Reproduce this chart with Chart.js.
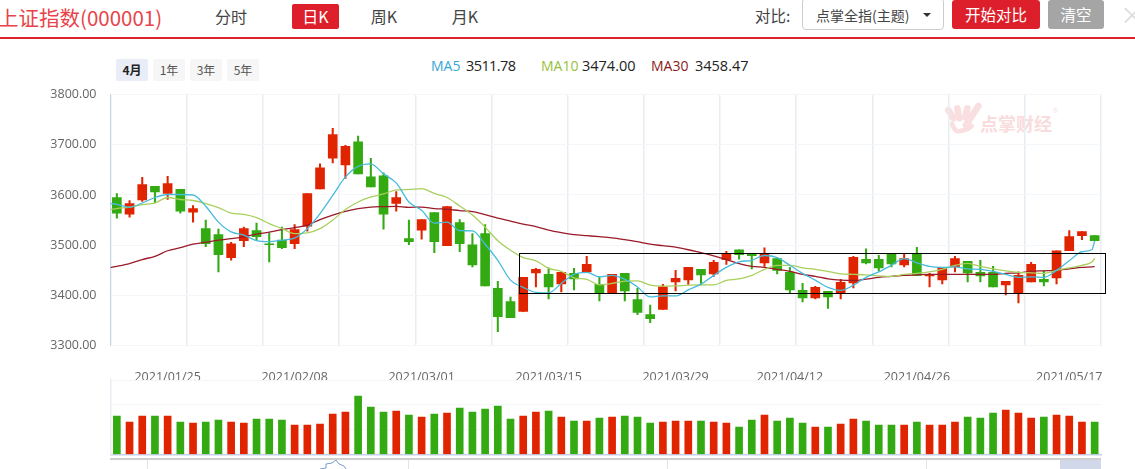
<!DOCTYPE html>
<html lang="zh"><head><meta charset="utf-8">
<script src="https://cdn.jsdelivr.net/npm/chart.js@4/dist/chart.umd.min.js"></script>
<style>
html,body{margin:0;padding:0;background:#fff;overflow:hidden}
#page{position:relative;width:1135px;height:469px;overflow:hidden;font-family:"Noto Sans CJK SC","Noto Sans",sans-serif;background:#fff}
#page>*{position:absolute;box-sizing:border-box}
canvas{display:block}
.c{text-align:center;white-space:nowrap}
.tab{top:4px;height:25px;line-height:25px;font-size:16px;color:#444;transform:translateX(-50%);white-space:nowrap}
.rng{top:59px;height:22px;line-height:22px;width:32px;background:#f6f6f6;border-radius:2px;font-size:12px;color:#555;text-align:center}
.ma{top:56px;font:14px/20px "Open Sans",sans-serif;white-space:nowrap}
.val{font-size:14.5px}
.btn{top:0;height:29px;line-height:28px;color:#fff;font-size:15.5px;text-align:center;border-radius:3px}
.vl{top:460px;height:9px;width:1px;background:#e4e4e4}
</style></head><body>
<div id="page">
  <div style="left:-2px;top:3px;font-size:20.5px;line-height:28px;color:#e8434a;white-space:nowrap">上证指数(000001)</div>
  <div class="tab" style="left:231px">分时</div>
  <div class="c" style="left:292px;top:4px;width:47px;height:25px;line-height:25px;background:#dc1f2a;color:#fff;font-size:16px;border-radius:2px">日K</div>
  <div class="tab" style="left:384px">周K</div>
  <div class="tab" style="left:465px">月K</div>
  <div style="left:755px;top:3px;font-size:15.5px;line-height:24px;color:#444;white-space:nowrap">对比:</div>
  <div style="left:802px;top:-2px;width:142px;height:32px;border:1px solid #ccc;border-radius:4px;background:#fff"></div>
  <div style="left:816px;top:3px;font-size:14px;line-height:24px;color:#444;white-space:nowrap">点掌全指(主题)</div>
  <div style="left:923px;top:13px;width:0;height:0;border-left:4px solid transparent;border-right:4px solid transparent;border-top:4px solid #333"></div>
  <div class="btn" style="left:952px;width:88px;background:#dc1f2a">开始对比</div>
  <div class="btn" style="left:1048px;width:56px;background:#a5a5a5">清空</div>
  <div style="left:1120px;top:0;font-size:24px;line-height:28px;color:#ddd">×</div>
  <div style="left:0;top:37px;width:1135px;height:2px;background:#e0202a"></div>

  <div class="rng" style="left:116px;background:#e8edf7;color:#222;font-weight:700">4月</div>
  <div class="rng" style="left:153px">1年</div>
  <div class="rng" style="left:190px">3年</div>
  <div class="rng" style="left:227px">5年</div>
  <div class="ma" style="left:431px;color:#35a8d2">MA5</div><div class="ma val" style="left:466px;color:#222;letter-spacing:-.6px">3511.78</div>
  <div class="ma" style="left:541px;color:#97c139">MA10</div><div class="ma val" style="left:582px;color:#222">3474.00</div>
  <div class="ma" style="left:651px;color:#8b1a1a">MA30</div><div class="ma val" style="left:695px;color:#222">3458.47</div>

  <svg style="left:930px;top:90px" width="140" height="60" viewBox="0 0 420 180">
    <g fill="none" stroke="#f9dfe0" stroke-width="20" stroke-linecap="round">
      <path d="M55 60L70 85M82 55L88 85M112 55L106 82M145 48L108 105"/>
      <path d="M66 102Q75 130 95 122Q115 118 125 108" stroke-width="14"/>
    </g>
    <text x="150" y="122" font-size="54" font-weight="700" fill="#f9dcdc" font-family="Noto Sans CJK SC">点掌财经</text>
    <text x="368" y="68" font-size="20" fill="#f9e4e4" font-family="Open Sans">®</text>
  </svg>

  <div style="left:0;top:73px;width:1135px;height:311px"><canvas id="main" width="1135" height="311"></canvas></div>
  <div style="left:0;top:376px;width:1135px;height:80px"><canvas id="vol" width="1135" height="80"></canvas></div>

  <div style="left:519px;top:253px;width:587px;height:41px;border:1.5px solid #000"></div>

  <div style="left:110px;top:458px;width:991px;height:2px;background:#cfcfcf"></div>
  <div class="vl" style="left:147px"></div><div class="vl" style="left:408px"></div>
  <div class="vl" style="left:667px"></div><div class="vl" style="left:926px"></div>
  <div style="left:1060px;top:460px;width:41px;height:9px;background:#d0d8ea"></div>
  <svg style="left:318px;top:460px" width="30" height="9" viewBox="0 0 30 9"><path d="M2 9L8 8L8 4L14 3L18 0L21 4L26 6L28 9" fill="none" stroke="#7b9cc8" stroke-width="1"/></svg>
</div>
<script>
const categories = ["2021/01/19","2021/01/20","2021/01/21","2021/01/22","2021/01/25","2021/01/26","2021/01/27","2021/01/28","2021/01/29",
"2021/02/01","2021/02/02","2021/02/03","2021/02/04","2021/02/05","2021/02/08","2021/02/09","2021/02/10","2021/02/18","2021/02/19",
"2021/02/22","2021/02/23","2021/02/24","2021/02/25","2021/02/26","2021/03/01","2021/03/02","2021/03/03","2021/03/04","2021/03/05",
"2021/03/08","2021/03/09","2021/03/10","2021/03/11","2021/03/12","2021/03/15","2021/03/16","2021/03/17","2021/03/18","2021/03/19",
"2021/03/22","2021/03/23","2021/03/24","2021/03/25","2021/03/26","2021/03/29","2021/03/30","2021/03/31","2021/04/01","2021/04/02",
"2021/04/06","2021/04/07","2021/04/08","2021/04/09","2021/04/12","2021/04/13","2021/04/14","2021/04/15","2021/04/16","2021/04/19",
"2021/04/20","2021/04/21","2021/04/22","2021/04/23","2021/04/26","2021/04/27","2021/04/28","2021/04/29","2021/04/30","2021/05/06",
"2021/05/07","2021/05/10","2021/05/11","2021/05/12","2021/05/13","2021/05/14","2021/05/17","2021/05/18","2021/05/19"];
const tickIndex = [4,14,24,34,44,53,63,75];
const openP = [3595,3562,3590,3617,3603,3611,3566,3533,3521,3475,3509,3529,3503,3510,3503,3538,3612,3673.5,3660,3706,3636,3638,3583,3513,3530,3565,3499,3545,3501,3523,3414,3388,3368,3445,3442,3423,3444,3447,3422,3404,3444,3392,3362,3372,3427,3431,3452,3443,3471,3491,3482,3465,3473.5,3446,3410,3395,3408,3405,3425,3472,3472,3482,3461,3482,3439,3431,3457,3468,3446,3446,3421,3405,3427,3432,3435,3489,3519,3519];
const closeP = [3564,3583,3620.5,3606,3622.5,3568,3573,3503,3481,3503,3533,3517,3501,3495,3531,3603,3654,3720,3697,3642,3616,3562,3595,3507,3551,3507,3577,3503,3461,3419,3358,3356,3436,3452,3417,3446,3433,3462,3404,3442,3409,3366,3354,3417,3434,3456,3441,3466,3482,3481,3479,3482,3450,3411,3395,3416,3397,3426,3476,3465,3455,3463,3473.5,3440,3442,3456,3473.5,3445,3439,3417,3428,3440,3462,3427,3489,3517,3527,3509];
const highP = [3603,3589,3635,3617,3637,3611,3579,3550,3532,3506,3536,3544,3524,3536,3541,3603,3662,3732.5,3699,3717,3673,3644,3607,3550,3551,3565,3577,3551,3523,3541,3428,3397,3436,3454,3455,3446,3454,3478,3437,3442,3444,3414,3381,3422,3450,3456,3452,3470,3488,3491,3482,3495,3473.5,3456,3424,3418,3408,3432,3478,3493,3480,3482,3482,3496,3444,3456,3478,3468,3470,3458,3428,3447,3466,3449,3489,3529,3527,3519];
const lowP = [3554,3556,3587,3585,3591,3564,3546,3497,3447,3470,3497,3509,3467,3493,3493,3528,3612,3664,3633,3642,3616,3532,3568,3501,3512,3485,3499,3487,3457,3419,3328,3356,3368,3417,3393,3407,3411,3447,3389,3404,3389,3362,3346,3372,3409,3422,3421,3438,3462,3472,3453,3458,3443,3404,3387,3393,3374,3393,3415,3463,3449,3457,3457,3440,3417,3423,3447,3427,3427,3417,3401,3385,3427,3419,3423,3489,3511,3509];
const volume = [320,270,320,320,320,270,261,270,286,270,261,295,295,286,245,245,253,336,353,487,395,353,361,328,311,336,345,386,353,378,403,295,320,353,361,311,278,278,303,311,320,311,261,270,278,278,278,270,261,228,286,328,278,303,261,228,228,253,295,278,245,245,245,270,245,245,270,311,303,345,370,345,303,311,328,320,270,270];
const maX = [-0.5,0,1,2,3,4,5,6,7,8,9,10,11,12,13,14,15,16,17,18,19,20,21,22,23,24,25,26,27,28,29,30,31,32,33,34,35,36,37,38,39,40,41,42,43,44,45,46,47,48,49,50,51,52,53,54,55,56,57,58,59,60,61,62,63,64,65,66,67,68,69,70,71,72,73,74,75,76,76.8,77];
const ma5 = [3583,3581.5,3575.5,3584,3595,3601,3601,3600,3577.5,3546,3526.5,3520,3509,3507,3510,3514,3533,3563,3599,3636,3657,3662,3642,3624,3586,3569.5,3544,3546,3529,3528.5,3502,3470,3430.5,3416,3406,3405,3424,3442,3446,3437,3440,3432,3417,3397,3399,3399,3411,3422.5,3440,3456,3467,3470,3479.5,3475.5,3460,3444,3430.5,3416,3410,3420.5,3436,3447,3460,3473.5,3465,3458,3456,3457,3453,3452,3448,3442,3436,3437,3436,3450,3469,3487,3491.5,3509];
const ma10 = [3571,3573,3576,3581,3584,3595,3591,3589,3583,3575,3564,3561.5,3555,3543,3533,3523,3524.5,3533,3550,3571,3586,3596,3602,3610,3611,3612.6,3603,3595,3578,3560,3536,3509,3490,3475.5,3469,3454,3448,3435,3432,3421,3424,3428.5,3429,3420.5,3418.5,3419,3420.5,3421,3421,3430,3433,3440,3452,3460,3460,3455,3452,3448,3443,3442,3441,3439,3438,3442,3444,3447,3452,3460,3464,3458,3453,3449,3446,3445,3444,3450,3455,3460,3467,3474];
const ma30 = [3455.6,3458,3463.6,3471.5,3478,3489,3495,3502,3506,3510,3513,3516.6,3522,3526,3531,3535,3540,3551,3560,3567.6,3573,3576,3577,3577.5,3575.5,3576,3573,3571.5,3569,3567,3561,3554,3548,3542,3537,3530,3525,3521,3519,3517,3514.6,3511,3507,3502,3499,3496,3491,3485,3479,3471.5,3463.6,3458,3456,3452,3448,3442,3438,3433,3430.5,3430,3432.5,3436,3438,3440,3441,3442,3442,3442,3442,3442,3442,3444,3445,3448,3449,3450,3453,3456,3457,3457.5];

const RED = '#e02400', GREEN = '#33aa12';
const upColor = categories.map((_, i) => closeP[i] >= openP[i] ? RED : GREEN);
const maSet = (label, arr, color) => ({type:'line', label, data: arr.map((v, i) => ({x: maX[i], y: v})),
  borderColor: color, borderWidth: 1.3, pointRadius: 0, cubicInterpolationMode: 'monotone', order: 1});
const fixW = s => { s.width = 110.5; };

new Chart(document.getElementById('main'), {
  type: 'bar',
  data: { datasets: [
    maSet('MA5', ma5, '#45bcdb'),
    maSet('MA10', ma10, '#a9cf5c'),
    maSet('MA30', ma30, '#9a1a28'),
    {label:'K', data: categories.map((_, i) => ({x:i, y:[openP[i], closeP[i]]})), backgroundColor: upColor, barThickness: 9, order: 2},
    {label:'HL', data: categories.map((_, i) => ({x:i, y:[lowP[i], highP[i]]})), backgroundColor: upColor, barThickness: 1.4, order: 3}
  ]},
  options: {
    responsive: false, animation: false,
    layout: {padding: {top: 0, right: 34, left: 0, bottom: 0}},
    datasets: {bar: {grouped: false}},
    plugins: {legend: {display: false}, tooltip: {enabled: false}},
    scales: {
      x: {type: 'linear', position: 'bottom', min: -0.5, max: 77.5, offset: false,
        grid: {display: false, offset: false}, border: {display: false},
        afterBuildTicks: s => { s.ticks = tickIndex.map(v => ({value: v})); },
        ticks: {autoSkip: false, maxRotation: 0, padding: 16, color: '#666',
          font: {family: 'Open Sans', size: 12.5}, callback: v => categories[v]},
        afterFit: s => { s.height = 38.3; }},
      xGrid: {type: 'linear', position: 'bottom', min: 0, max: 12,
        grid: {color: '#e8edf3', lineWidth: 1.5, drawTicks: false}, border: {display: false},
        ticks: {display: false, stepSize: 1}, afterFit: s => { s.height = 0; }},
      y: {min: 3300, max: 3800,
        grid: {color: '#f4f6f8', drawTicks: false},
        border: {color: '#c6d2ea', width: 1},
        ticks: {stepSize: 100, padding: 14, color: '#666', font: {family: 'Open Sans', size: 12.5},
          callback: v => v.toFixed(2)},
        afterFit: fixW}
    }
  }
});

new Chart(document.getElementById('vol'), {
  type: 'bar',
  data: { datasets: [{label:'VOL', data: volume.map((v, i) => ({x:i, y:v})), backgroundColor: upColor, barThickness: 7}]},
  options: {
    responsive: false, animation: false,
    layout: {padding: {top: 4, right: 34, left: 0, bottom: 0}},
    plugins: {legend: {display: false}, tooltip: {enabled: false}},
    scales: {
      x: {type: 'linear', min: -0.5, max: 77.5, offset: false, grid: {display: false, offset: false}, border: {color: '#c6d2ea', width: 1.5},
        ticks: {display: false}, afterFit: s => { s.height = 1.5; }},
      y: {min: 0, max: 621, grid: {color: '#f4f6f8', drawTicks: false}, border: {color: '#e8edf3', width: 1.5},
        ticks: {display: false, stepSize: 200}, afterFit: fixW}
    }
  }
});
</script>
</body></html>
